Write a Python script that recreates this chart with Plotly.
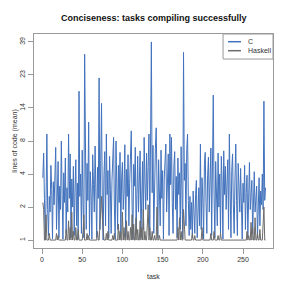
import numpy as np
import plotly.graph_objects as go

series_names = ["C", "Haskell"]
tick_labels = [1, 2, 4, 8, 14, 23, 39]
x_ticks = [0, 50, 100, 150, 200, 250]

c_loc = [
    3.7, 6.2, 2.4, 1.0, 2.3, 9.0, 1.9, 1.1, 2.5, 1.8,
    4.8, 2.9, 1.02, 3.4, 2.1, 4.4, 7.0, 1.25, 2.7, 5.2,
    1.05, 3.1, 1.9, 8.0, 2.6, 1.02, 4.1, 2.2, 5.6, 1.15,
    3.0, 1.8, 9.0, 2.4, 6.1, 1.05, 3.6, 2.0, 4.7, 1.1,
    2.8, 5.4, 1.35, 3.3, 1.02, 18.0, 2.5, 4.0, 1.15, 6.6,
    2.2, 1.05, 32.0, 3.8, 1.25, 5.0, 2.3, 11.0, 1.1, 4.2,
    2.7, 1.02, 6.0, 3.2, 1.8, 7.2, 2.0, 1.05, 4.6, 2.4,
    22.0, 1.25, 5.3, 15.0, 2.1, 1.0, 3.9, 6.4, 1.35, 9.0,
    2.6, 4.3, 1.05, 5.8, 2.9, 1.15, 3.5, 6.9, 8.5, 2.0,
    1.02, 8.0, 3.0, 1.25, 4.8, 2.2, 6.3, 1.1, 3.7, 5.1,
    1.9, 2.8, 7.4, 1.05, 4.4, 2.5, 6.0, 1.35, 3.3, 5.5,
    9.5, 2.1, 1.02, 4.9, 3.1, 7.0, 1.15, 2.6, 5.8, 1.8,
    3.9, 6.5, 1.05, 2.9, 5.2, 1.25, 8.5, 3.4, 1.9, 6.2,
    2.3, 4.6, 9.0, 1.1, 5.7, 39.0, 2.7, 7.3, 1.15, 4.0,
    6.8, 10.0, 2.0, 1.05, 5.4, 3.0, 1.35, 6.6, 2.4, 4.3,
    1.02, 3.6, 5.9, 7.5, 1.8, 2.8, 6.1, 1.1, 9.0, 3.2,
    8.5, 2.2, 1.15, 4.7, 6.4, 1.9, 3.8, 1.05, 5.6, 2.6,
    4.1, 1.25, 7.1, 2.9, 1.02, 33.0, 3.5, 5.0, 1.35, 6.7,
    9.0, 2.3, 1.1, 2.5, 1.25, 2.2, 1.05, 2.8, 1.9, 1.15,
    2.6, 3.5, 1.05, 2.4, 3.0, 1.35, 7.5, 1.25, 3.7, 2.4,
    1.02, 4.9, 6.3, 2.2, 1.15, 3.9, 5.7, 1.8, 2.9, 6.9,
    1.1, 4.4, 17.0, 2.5, 1.05, 5.2, 3.1, 1.35, 6.2, 2.0,
    4.0, 1.15, 5.8, 3.4, 1.02, 6.5, 2.6, 4.7, 1.9, 3.2,
    5.4, 1.25, 9.0, 2.8, 1.05, 4.3, 6.1, 2.1, 1.15, 3.6,
    7.5, 2.3, 1.1, 5.0, 3.0, 1.8, 4.5, 2.0, 1.02, 3.3,
    2.2, 4.8, 1.25, 2.7, 3.9, 1.1, 2.5, 5.1, 1.9, 2.9,
    3.5, 1.15, 2.4, 4.2, 1.8, 2.6, 3.1, 1.05, 2.2, 3.7,
    1.35, 2.8, 2.1, 4.0, 1.9, 15.5, 2.3, 3.0,
]

haskell_loc = [
    2.2, 1.9, 1.0, 1.0, 1.7, 1.0, 1.0, 1.0, 1.15, 1.0,
    1.0, 1.0, 1.0, 1.0, 1.0, 1.0, 1.0, 1.15, 1.0, 1.1,
    1.0, 1.0, 1.0, 1.0, 1.0, 1.0, 1.0, 1.0, 1.0, 1.25,
    1.0, 1.0, 1.5, 1.0, 1.3, 1.0, 1.8, 1.0, 1.2, 1.0,
    1.0, 1.3, 1.0, 1.0, 1.25, 1.0, 1.0, 1.0, 1.0, 1.0,
    1.2, 1.7, 1.0, 1.0, 1.0, 1.15, 1.0, 1.1, 1.0, 1.0,
    1.0, 1.0, 1.0, 1.0, 1.0, 1.0, 1.0, 1.0, 1.2, 1.0,
    1.0, 1.5, 1.9, 2.5, 1.6, 1.3, 1.0, 1.0, 1.0, 1.15,
    1.0, 1.2, 1.0, 1.0, 1.0, 1.0, 1.0, 1.1, 1.0, 1.15,
    1.0, 1.0, 1.0, 1.0, 1.4, 1.0, 1.2, 1.0, 1.0, 1.8,
    1.0, 1.3, 1.0, 1.0, 1.5, 1.0, 1.2, 1.0, 1.0, 1.3,
    1.0, 1.7, 1.0, 1.4, 1.0, 1.0, 1.6, 1.0, 1.25, 1.0,
    1.0, 1.5, 1.0, 1.3, 1.0, 1.9, 1.0, 1.2, 1.0, 1.0,
    1.4, 2.1, 1.0, 1.3, 1.0, 1.0, 1.2, 1.0, 1.0, 1.1,
    1.0, 1.0, 2.0, 1.0, 1.0, 1.1, 1.0, 1.0, 1.0, 1.0,
    1.0, 1.0, 1.0, 1.0, 1.0, 1.0, 1.0, 1.0, 1.0, 1.0,
    1.0, 1.0, 1.0, 1.0, 1.0, 1.0, 1.0, 1.0, 1.3, 1.0,
    1.6, 1.0, 1.2, 1.0, 1.0, 1.9, 1.4, 1.0, 1.0, 1.0,
    1.0, 1.0, 1.0, 1.0, 1.0, 1.0, 1.15, 1.0, 1.0, 1.1,
    1.0, 1.0, 1.0, 1.0, 1.0, 1.0, 1.0, 1.0, 1.3, 1.0,
    1.0, 1.0, 1.0, 1.0, 1.0, 1.0, 1.0, 1.0, 1.0, 1.15,
    1.0, 1.0, 1.0, 1.2, 1.0, 1.0, 1.0, 1.0, 1.1, 1.0,
    1.0, 1.15, 1.0, 1.0, 1.0, 1.0, 1.0, 1.0, 1.0, 1.0,
    1.0, 1.0, 1.0, 1.0, 1.0, 1.0, 1.0, 1.0, 1.0, 1.0,
    1.0, 1.0, 1.0, 1.0, 1.0, 1.0, 1.0, 1.0, 1.0, 1.0,
    1.0, 1.0, 1.0, 1.0, 1.2, 1.0, 1.1, 1.0, 1.0, 1.45,
    1.0, 1.3, 1.0, 1.0, 1.6, 1.0, 1.0, 1.15, 1.0, 1.0,
    1.25, 1.0, 1.0, 1.0, 1.4, 2.0, 1.0, 1.0,
]

tasks = np.arange(1, len(c_loc) + 1)
tick_pos = np.arange(len(tick_labels))


def to_axis(v):
    return np.interp(np.log(np.asarray(v, dtype=float)), np.log(tick_labels), tick_pos)


colors = ["#4272bd", "#6b6b6b"]
FONT = "Liberation Sans, Arial, sans-serif"

fig = go.Figure()
for name, vals, col in zip(series_names, [c_loc, haskell_loc], colors):
    fig.add_trace(go.Scatter(x=tasks, y=to_axis(vals), mode="lines", name=name,
                             line=dict(color=col, width=1.0), showlegend=False))

axis_col = "#9a9a9a"
# page body has an 8px default margin, so the figure is 283 px and offset accordingly
fig.update_layout(
    width=283, height=283, autosize=False,
    margin=dict(l=26, r=18, t=26, b=43),
    paper_bgcolor="white", plot_bgcolor="white",
    font=dict(family=FONT, size=7, color="#333333"),
    xaxis=dict(range=[-10, 287.3], tickvals=x_ticks, ticks="outside", ticklen=5,
               tickcolor=axis_col, showgrid=False, zeroline=False, automargin=False,
               showline=True, mirror=True, linecolor=axis_col, linewidth=1,
               tickfont=dict(size=7, color="#333333")),
    yaxis=dict(range=[-0.24, 6.24], tickvals=tick_pos, ticktext=[str(t) for t in tick_labels],
               ticks="outside", ticklen=5, tickcolor=axis_col, tickangle=-90, automargin=False,
               showgrid=False, zeroline=False, showline=True, mirror=True,
               linecolor=axis_col, linewidth=1, tickfont=dict(size=7, color="#333333")),
)

ann = [
    dict(text="<b>Conciseness: tasks compiling successfully</b>", x=0.5, y=1.075,
         xref="paper", yref="paper", showarrow=False, font=dict(size=9, color="#111111"),
         xanchor="center", yanchor="middle"),
    dict(text="task", x=0.5, y=-0.135, xref="paper", yref="paper", showarrow=False,
         font=dict(size=7, color="#333333"), xanchor="center", yanchor="middle"),
    dict(text="lines of code (mean)", x=-0.106, y=0.5, xref="paper", yref="paper",
         showarrow=False, textangle=-90, font=dict(size=7, color="#333333"),
         xanchor="left", yanchor="middle"),
]
shapes = [dict(type="rect", xref="paper", yref="paper", x0=0.791, x1=1.0, y0=0.883, y1=1.0,
               line=dict(color=axis_col, width=1), fillcolor="white")]
for i, (name, col) in enumerate(zip(series_names, colors)):
    yy = 0.964 - i * 0.042
    shapes.append(dict(type="line", xref="paper", yref="paper", x0=0.812, x1=0.866,
                       y0=yy, y1=yy, line=dict(color=col, width=1.5)))
    ann.append(dict(text=name, x=0.889, y=yy, xref="paper", yref="paper", showarrow=False,
                    xanchor="left", yanchor="middle", font=dict(size=7, color="#333333")))

fig.update_layout(annotations=ann, shapes=shapes)
fig.write_html("out.html")
